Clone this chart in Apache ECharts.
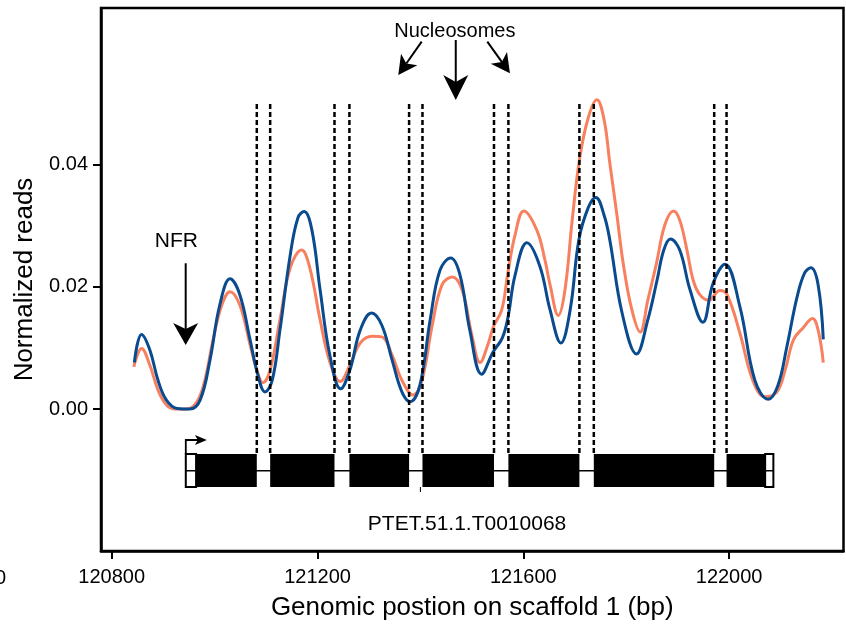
<!DOCTYPE html>
<html><head><meta charset="utf-8">
<script src="https://cdn.jsdelivr.net/npm/echarts@6/dist/echarts.min.js"></script>
<style>html,body{margin:0;padding:0;background:#fff}#c{width:846px;height:630px}</style>
</head><body><div id="c"></div>
<script>
// ---------- data ----------
const xTicks = [120800, 121200, 121600, 122000];
const yTicks = [0, 0.02, 0.04];

const blueX = [120844,120858,120874,120890,120906,120927,120952,120972,120991,121010,121030,121049,121069,121084,121098,121112,121127,121147,121162,121174,121189,121205,121224,121245,121263,121283,121305,121325,121345,121364,121380,121399,121419,121438,121459,121477,121496,121519,121541,121559,121570,121584,121607,121632,121652,121673,121691,121708,121726,121741,121757,121768,121792,121820,121842,121860,121873,121886,121904,121924,121949,121969,121992,122021,122050,122076,122095,122112,122132,122147,122159,122173,122183];
const blueY = [0.0076,0.0122,0.0097,0.0047,0.0015,0.0001,0.0000,0.0015,0.0080,0.0170,0.0213,0.0187,0.0113,0.0056,0.0028,0.0047,0.0129,0.0252,0.0313,0.0323,0.0293,0.0195,0.0088,0.0033,0.0064,0.0129,0.0157,0.0137,0.0080,0.0028,0.0012,0.0039,0.0146,0.0227,0.0247,0.0219,0.0129,0.0057,0.0093,0.0116,0.0149,0.0219,0.0272,0.0234,0.0162,0.0108,0.0162,0.0277,0.0329,0.0346,0.0317,0.0277,0.0157,0.0090,0.0146,0.0211,0.0260,0.0278,0.0260,0.0195,0.0142,0.0206,0.0237,0.0167,0.0047,0.0016,0.0039,0.0101,0.0183,0.0223,0.0231,0.0203,0.0114];

const orangeX = [120843,120858,120874,120890,120906,120923,120946,120966,120981,120997,121014,121030,121049,121069,121082,121094,121108,121127,121147,121169,121185,121205,121224,121244,121263,121283,121306,121325,121345,121364,121386,121403,121423,121442,121462,121481,121500,121516,121531,121542,121558,121570,121584,121601,121626,121642,121652,121668,121681,121695,121709,121726,121743,121757,121768,121782,121794,121811,121827,121842,121859,121875,121892,121904,121918,121930,121943,121960,121982,121996,122021,122046,122070,122093,122109,122125,122144,122162,122173,122183];
const orangeY = [0.0069,0.0099,0.0072,0.0031,0.0007,0.0000,0.0000,0.0012,0.0047,0.0113,0.0170,0.0192,0.0170,0.0105,0.0064,0.0043,0.0064,0.0146,0.0231,0.0260,0.0231,0.0146,0.0077,0.0045,0.0072,0.0108,0.0119,0.0118,0.0088,0.0047,0.0023,0.0047,0.0137,0.0203,0.0216,0.0195,0.0121,0.0076,0.0105,0.0135,0.0162,0.0223,0.0285,0.0324,0.0293,0.0244,0.0203,0.0153,0.0195,0.0309,0.0407,0.0476,0.0506,0.0473,0.0403,0.0317,0.0239,0.0162,0.0126,0.0178,0.0239,0.0301,0.0324,0.0309,0.0260,0.0211,0.0187,0.0178,0.0194,0.0187,0.0124,0.0047,0.0020,0.0028,0.0064,0.0113,0.0133,0.0148,0.0129,0.0076];

const nucleosomeEdges = [121082,121108,121233,121262,121378,121404,121543,121571,121709,121737,121971,121995];
const exons = [[120964,121082],[121108,121233],[121262,121378],[121404,121543],[121571,121709],[121737,121971],[121995,122070]];
const utrs = [[120944,120964],[122070,122086]];
const geneSpan = [120944,122086];
const geneName = 'PTET.51.1.T0010068';

// ---------- layout constants (data units) ----------
const X_MIN = 120779.2, X_MAX = 122222.3;
const Y_MIN = -0.02323, Y_MAX = 0.0656;
const DASH_TOP = 0.0499, BOX_TOP = -0.00736, BOX_BOT = -0.01276, INTRON_Y = -0.0101;
const TSS_Y = -0.00507, TSS_TIP = 120985;
const FONT = '"Liberation Sans", Arial, Helvetica, sans-serif';

function txt(x, y, text, size, align) {
  return {type:'text', style:{x:x, y:y, text:text, fill:'#000', font: size + 'px ' + FONT,
    align: align || 'center', verticalAlign:'middle', textAlign: align || 'center', textVerticalAlign:'middle'}};
}
function arrow(api, from, to, L, W, notch, lw) {
  const a = api.coord(from), b = api.coord(to);
  const dx = b[0]-a[0], dy = b[1]-a[1], len = Math.hypot(dx, dy);
  const ux = dx/len, uy = dy/len, nx = -uy, ny = ux;
  const base = [b[0]-ux*L, b[1]-uy*L];
  const np = [b[0]-ux*(L-notch), b[1]-uy*(L-notch)];
  return [
    {type:'line', shape:{x1:a[0], y1:a[1], x2:np[0], y2:np[1]}, style:{stroke:'#000', lineWidth:lw}},
    {type:'polygon', shape:{points:[[b[0],b[1]],[base[0]+nx*W, base[1]+ny*W], np, [base[0]-nx*W, base[1]-ny*W]]}, style:{fill:'#000'}}
  ];
}

const chart = echarts.init(document.getElementById('c'), null, {renderer:'canvas'});
chart.setOption({
  animation: false,
  backgroundColor: '#fff',
  grid: {left:101, right:2.5, top:8, bottom:79, show:true, borderColor:'#000', borderWidth:2.5, backgroundColor:'transparent'},
  xAxis: {
    type:'value', min:X_MIN, max:X_MAX,
    axisLine:{show:true, onZero:false, lineStyle:{color:'#000', width:2.5}},
    axisTick:{show:true, customValues:xTicks, length:8, lineStyle:{color:'#000', width:2}},
    axisLabel:{customValues:xTicks, color:'#000', fontSize:20, fontFamily:FONT, margin:16, formatter: v => String(v)},
    splitLine:{show:false},
    name:'Genomic postion on scaffold 1 (bp)', nameLocation:'middle', nameGap:44,
    nameTextStyle:{color:'#000', fontSize:26, fontFamily:FONT}
  },
  yAxis: {
    type:'value', min:Y_MIN, max:Y_MAX,
    axisLine:{show:true, onZero:false, lineStyle:{color:'#000', width:2.5}},
    axisTick:{show:true, customValues:yTicks, length:8, lineStyle:{color:'#000', width:2}},
    axisLabel:{customValues:yTicks, color:'#000', fontSize:20, fontFamily:FONT, margin:13, formatter: v => v.toFixed(2)},
    splitLine:{show:false},
    name:'Normalized reads', nameLocation:'middle', nameGap:53,
    nameTextStyle:{color:'#000', fontSize:26, fontFamily:FONT}
  },
  graphic: [
    {type:'text', x:6, y:578, style:{text:'0', fill:'#000', font:'20px ' + FONT, align:'right', verticalAlign:'middle', textAlign:'right', textVerticalAlign:'middle'}}
  ],
  series: [
    {
      name:'orange', type:'line', smooth:0.4, symbol:'none', z:2,
      lineStyle:{color:'#f8805f', width:3},
      data: orangeX.map((x, i) => [x, orangeY[i]])
    },
    {
      name:'blue', type:'line', smooth:0.4, symbol:'none', z:3,
      lineStyle:{color:'#0a4a8e', width:3},
      data: blueX.map((x, i) => [x, blueY[i]])
    },
    {
      name:'nucleosome edges', type:'custom', z:5, coordinateSystem:'cartesian2d', encode:{x:0, y:1},
      data: nucleosomeEdges.map(x => [x, DASH_TOP]),
      renderItem: (params, api) => {
        const x = api.value(0);
        const p1 = api.coord([x, DASH_TOP]), p2 = api.coord([x, BOX_TOP]);
        return {type:'line', shape:{x1:p1[0], y1:p1[1], x2:p2[0], y2:p2[1]}, style:{stroke:'#000', lineWidth:2.5, lineDash:[5,3]}};
      }
    },
    {
      name:'utr', type:'custom', z:6, coordinateSystem:'cartesian2d', encode:{x:[0,1]},
      data: utrs,
      renderItem: (params, api) => {
        const a = api.coord([api.value(0), BOX_TOP]), b = api.coord([api.value(1), BOX_BOT]);
        return {type:'rect', shape:{x:a[0], y:a[1], width:b[0]-a[0], height:b[1]-a[1]}, style:{fill:'#fff', stroke:'#000', lineWidth:2}};
      }
    },
    {
      name:'gene line', type:'custom', z:7, coordinateSystem:'cartesian2d', encode:{x:[0,1]},
      data: [geneSpan],
      renderItem: (params, api) => {
        const s = api.value(0), e = api.value(1);
        const a = api.coord([s, INTRON_Y]), b = api.coord([e, INTRON_Y]);
        const t0 = api.coord([s, BOX_TOP]), t1 = api.coord([s, TSS_Y]), t2 = api.coord([TSS_TIP, TSS_Y]);
        const mk0 = api.coord([121400, BOX_BOT]), mk1 = api.coord([121400, -0.01358]);
        const children = [
          {type:'line', shape:{x1:a[0], y1:a[1], x2:b[0], y2:b[1]}, style:{stroke:'#000', lineWidth:1.5}},
          {type:'polyline', shape:{points:[t0, t1, [t2[0]-8, t2[1]]]}, style:{stroke:'#000', lineWidth:1.8, fill:null}},
          {type:'polygon', shape:{points:[[t2[0], t2[1]], [t2[0]-12, t2[1]-5], [t2[0]-9, t2[1]], [t2[0]-12, t2[1]+5]]}, style:{fill:'#000'}},
          {type:'line', shape:{x1:mk0[0], y1:mk0[1], x2:mk1[0], y2:mk1[1]}, style:{stroke:'#000', lineWidth:1}}
        ];
        return {type:'group', children: children};
      }
    },
    {
      name:'exons', type:'custom', z:8, coordinateSystem:'cartesian2d', encode:{x:[0,1]},
      data: exons,
      renderItem: (params, api) => {
        const a = api.coord([api.value(0), BOX_TOP]), b = api.coord([api.value(1), BOX_BOT]);
        return {type:'rect', shape:{x:a[0], y:a[1], width:b[0]-a[0], height:b[1]-a[1]}, style:{fill:'#000'}};
      }
    },
    {
      name:'annotations', type:'custom', z:9, coordinateSystem:'cartesian2d', encode:{x:0, y:1},
      data: [[121467, 0.0618]],
      renderItem: (params, api) => {
        const nuc = api.coord([121467, 0.0618]);
        const nfr = api.coord([120925.6, 0.02753]);
        const gn = api.coord([121490.6, -0.01881]);
        let children = [
          txt(nuc[0], nuc[1], 'Nucleosomes', 20),
          txt(nfr[0], nfr[1], 'NFR', 21),
          txt(gn[0], gn[1], geneName, 21)
        ];
        children = children
          .concat(arrow(api, [121468.7, 0.06037], [121468.7, 0.05055], 25, 12.5, 7, 2))
          .concat(arrow(api, [121402.5, 0.06009], [121357, 0.05464], 19, 10, 5, 2))
          .concat(arrow(api, [121530, 0.06009], [121574, 0.05492], 19, 10, 5, 2))
          .concat(arrow(api, [120943.8, 0.02384], [120943.8, 0.01047], 22, 12.5, 6, 2));
        return {type:'group', children: children};
      }
    }
  ]
});
</script>
</body></html>
